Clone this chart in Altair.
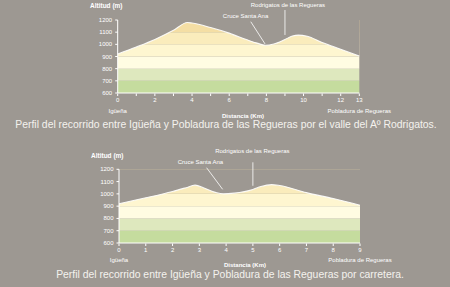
import altair as alt
import pandas as pd

# ---------------- data ----------------
top_km   = [0, 1, 2, 3, 3.75, 4, 5, 6, 7, 7.5, 7.93, 8.4, 9, 9.4, 9.72, 10.2, 11, 12, 13]
top_elev = [921, 978, 1040, 1115, 1180, 1175, 1138, 1092, 1035, 1010, 993, 1003, 1040, 1068, 1076, 1066, 1015, 960, 904]

bot_km   = [0, 1, 2, 2.5, 2.84, 3.2, 3.6, 3.9, 4.3, 5, 5.3, 5.7, 6, 7, 8, 9]
bot_elev = [920, 968, 1020, 1050, 1071, 1045, 1012, 1000, 1006, 1036, 1060, 1075, 1068, 1010, 962, 908]

band_lo     = [600, 700, 800, 900, 1000, 1100]
band_hi     = [700, 800, 900, 1000, 1100, 1200]
band_colors = ["#c5dc9e", "#dee8be", "#fffce2", "#fef6d0", "#faecbc", "#f4dea4"]

top_ticks  = list(range(0, 14))
top_labels = ["0", "", "2", "", "4", "", "6", "", "8", "", "10", "", "12", "13"]
bot_ticks  = list(range(0, 10))
bot_labels = [str(v) for v in bot_ticks]
y_ticks  = [600, 700, 800, 900, 1000, 1100, 1200]
y_labels = ["600", "700", "800", "900", "1000", "1100", "1200"]

place_names = ["Igüeña", "Pobladura de Regueras"]
annot_names = ["Cruce Santa Ana", "Rodrigatos de las Regueras"]
top_annot_km, top_annot_elev = [6.88, 9.16], [1233, 1323]
bot_annot_km, bot_annot_elev = [3.04, 4.98], [1262, 1349]
top_lead = dict(x=[7.16, 9.0], y=[1186, 1282], x2=[7.93, 9.0], y2=[1003, 1077])
bot_lead = dict(x=[3.27, 5.0], y=[1213, 1257], x2=[3.87, 5.0], y2=[1037, 1066])

y_title = "Altitud (m)"
x_title = "Distancia (Km)"
captions = [
    "Perfil del recorrido entre Igüeña y Pobladura de las Regueras por el valle del Aº Rodrigatos.",
    "Perfil del recorrido entre Igüeña y Pobladura de las Regueras por carretera.",
]

BG = "#9d9892"
FONT = "Liberation Sans"
WHITE = "#ffffff"


def profile(km, elev, xmax, ticks, tick_labels, xrange, yrange,
            annot_km, annot_elev, lead, xlabels_y):
    x_px0 = xrange[0]
    y_px0 = yrange[0]
    prof = pd.DataFrame({"km": km, "elev": elev})
    bands = pd.DataFrame({"lo": band_lo, "hi": band_hi, "c": band_colors,
                          "x0": [0] * 6, "x1": [xmax] * 6})
    xs = alt.Scale(domain=[0, xmax], range=xrange, nice=False, zero=False)
    ys = alt.Scale(domain=[600, 1200], range=yrange, nice=False, zero=False)

    def X(f):
        return alt.X(f, scale=xs, axis=None)

    def Y(f):
        return alt.Y(f, scale=ys, axis=None)

    rects = alt.Chart(bands).mark_rect().encode(
        x=X("x0:Q"), x2="x1:Q", y=Y("lo:Q"), y2="hi:Q",
        color=alt.Color("c:N", scale=None),
    )
    mask = alt.Chart(prof).transform_calculate(top="1200").mark_area(
        color=BG, interpolate="monotone"
    ).encode(x=X("km:Q"), y=Y("elev:Q"), y2="top:Q")
    line = alt.Chart(prof).mark_line(
        color=WHITE, strokeWidth=1.1, interpolate="monotone", opacity=0.9
    ).encode(x=X("km:Q"), y=Y("elev:Q"))

    # axes drawn through the scales
    dom = pd.DataFrame({"x0": [0, 0], "x1": [xmax, 0], "y0": [600, 600], "y1": [600, 1200]})
    domains = alt.Chart(dom).mark_rule(color=WHITE, strokeWidth=1).encode(
        x=X("x0:Q"), x2="x1:Q", y=Y("y0:Q"), y2="y1:Q")
    xt = pd.DataFrame({"km": ticks, "lab": tick_labels})
    xticks = alt.Chart(xt).mark_rule(color=WHITE, strokeWidth=1).encode(
        x=X("km:Q"), y=alt.value(y_px0 + 0.5), y2=alt.value(y_px0 + 3))
    xlabs = alt.Chart(xt).mark_text(
        color=WHITE, font=FONT, fontSize=6, baseline="middle", align="center"
    ).encode(x=X("km:Q"), y=alt.value(y_px0 + 6.5), text="lab:N")
    yt = pd.DataFrame({"elev": y_ticks, "lab": y_labels})
    yticks = alt.Chart(yt).mark_rule(color=WHITE, strokeWidth=1).encode(
        y=Y("elev:Q"), x=alt.value(x_px0 - 2.5), x2=alt.value(x_px0))
    ylabs = alt.Chart(yt).mark_text(
        color=WHITE, font=FONT, fontSize=6, baseline="middle", align="right"
    ).encode(y=Y("elev:Q"), x=alt.value(x_px0 - 5.5), text="lab:N")

    ann = alt.Chart(pd.DataFrame({"km": annot_km, "elev": annot_elev, "t": annot_names})).mark_text(
        color=WHITE, font=FONT, fontSize=6, baseline="middle", align="center"
    ).encode(x=X("km:Q"), y=Y("elev:Q"), text="t:N")
    leads = alt.Chart(pd.DataFrame(lead)).mark_rule(color=WHITE, strokeWidth=0.8).encode(
        x=X("x:Q"), x2="x2:Q", y=Y("y:Q"), y2="y2:Q")
    places = alt.Chart(pd.DataFrame({"km": [0, xmax], "t": place_names})).mark_text(
        color=WHITE, font=FONT, fontSize=6, baseline="middle", align="center"
    ).encode(x=X("km:Q"), y=alt.value(xlabels_y), text="t:N")
    return alt.layer(rects, mask, line, domains, xticks, xlabs, yticks, ylabs,
                     leads, ann, places)


top = profile(top_km, top_elev, 13, top_ticks, top_labels, [117.7, 359.3], [93, 20],
              top_annot_km, top_annot_elev, top_lead, 110.5)
bot = profile(bot_km, bot_elev, 9, bot_ticks, bot_labels, [119, 360], [243, 169.3],
              bot_annot_km, bot_annot_elev, bot_lead, 260)

ytitles = alt.Chart(pd.DataFrame({"t": [y_title, y_title], "px": [90, 91], "py": [5.5, 155.5]})).mark_text(
    color=WHITE, font=FONT, fontSize=6.5, fontWeight="bold", baseline="middle", align="left"
).encode(x=alt.X("px:Q", scale=None), y=alt.Y("py:Q", scale=None), text="t:N")

xtitles = alt.Chart(pd.DataFrame({"t": [x_title, x_title], "px": [243, 245], "py": [115.5, 264.5]})).mark_text(
    color=WHITE, font=FONT, fontSize=6, fontWeight="bold", baseline="middle", align="center"
).encode(x=alt.X("px:Q", scale=None), y=alt.Y("py:Q", scale=None), text="t:N")

caps = alt.Chart(pd.DataFrame({"t": captions, "py": [124.5, 275], "px": [226, 230]})).mark_text(
    color="#f4f2ee", font=FONT, fontSize=10.4, baseline="middle", align="center"
).encode(x=alt.X("px:Q", scale=None), y=alt.Y("py:Q", scale=None), text="t:N")

chart = alt.layer(top, bot, ytitles, xtitles, caps).resolve_scale(
    x="independent", y="independent"
).properties(
    width=450, height=287, padding=0, autosize=alt.AutoSizeParams(type="none"),
    background=BG,
).configure_view(stroke=None)

chart.save("out.html", embed_options={"renderer": "svg", "actions": False})
